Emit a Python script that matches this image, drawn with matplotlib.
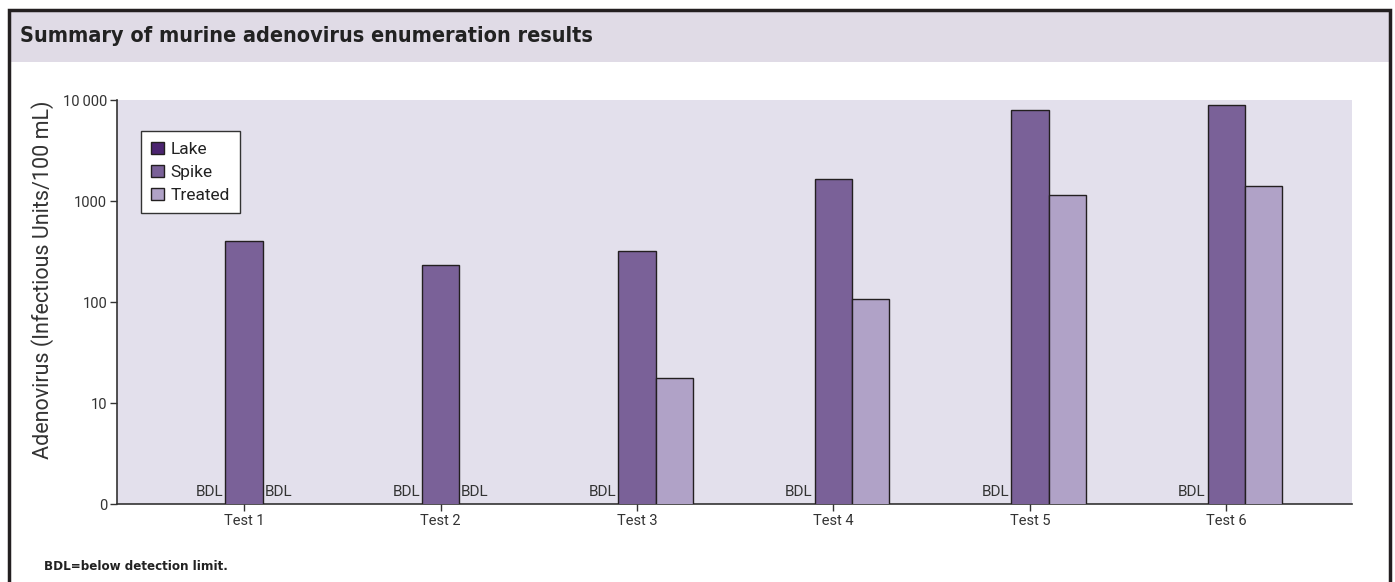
"""
Summary of murine adenovirus enumeration results (log-scale grouped bars).
"""

import numpy as np
import matplotlib.pyplot as plt
from matplotlib.patches import Patch, Rectangle
from matplotlib.ticker import FixedLocator, FixedFormatter, NullLocator

TESTS = ["Test 1", "Test 2", "Test 3", "Test 4", "Test 5", "Test 6"]
LAKE = [None, None, None, None, None, None]  # all below detection limit
SPIKE = [400, 236, 324, 1660, 8000, 8950]
TREATED = [None, None, 18, 107, 1150, 1410]

Y_TICKS = [1, 10, 100, 1000, 10000]
Y_LABELS = ["0", "10", "100", "1000", "10\u2009000"]

LAKE_COLOR = "#4b2470"
SPIKE_COLOR = "#7a6198"
TREATED_COLOR = "#b0a2c7"
PLOT_BG = "#e3e0ec"
BAND_BG = "#e0dbe6"
FRAME = "#231f20"
TEXT = "#333333"

LIGHT = ["Roboto", "DejaVu Sans"]

W, H = 1395, 582
BAR_W = 0.19


def main():
    fig = plt.figure(figsize=(W / 100, H / 100), dpi=100)
    fig.patch.set_facecolor("white")

    # title band and outer frame
    fig.patches.append(Rectangle((10 / W, 1 - 62 / H), 1380 / W, 52 / H,
                                 transform=fig.transFigure, facecolor=BAND_BG,
                                 edgecolor="none", zorder=0))
    fig.patches.append(Rectangle((9 / W, -0.05), 1381 / W, 1.05 - 10 / H,
                                 transform=fig.transFigure, facecolor="none",
                                 edgecolor=FRAME, lw=2.5, zorder=1))
    fig.text(20 / W, 1 - 36 / H, "Summary of murine adenovirus enumeration results",
             family="DejaVu Sans", fontstretch="condensed", fontweight="bold",
             fontsize=15.5, color="#222222", va="center", ha="left")
    fig.text(44 / W, 1 - 567 / H, "BDL=below detection limit.",
             family="DejaVu Sans", fontstretch="condensed", fontweight="bold",
             fontsize=9.5, color="#222222", va="center", ha="left")

    ax = fig.add_axes([117 / W, 1 - 504.3 / H, 1235 / W, 404 / H])
    ax.set_facecolor(PLOT_BG)
    ax.set_yscale("log")
    ax.set_ylim(1, 10000)
    ax.set_xlim(-0.647, 5.64)

    x = np.arange(len(TESTS))
    spike = np.array(SPIKE, dtype=float)
    ax.bar(x, spike, width=BAR_W, bottom=0, color=SPIKE_COLOR,
           edgecolor=FRAME, linewidth=1.0, zorder=3)

    for i, (lake, treated) in enumerate(zip(LAKE, TREATED)):
        if lake is None:
            ax.text(x[i] - BAR_W / 2 - 0.01, 1.12, "BDL", family=LIGHT,
                    fontsize=11, color=TEXT, ha="right", va="bottom")
        else:
            ax.bar(x[i] - BAR_W, lake, width=BAR_W, color=LAKE_COLOR,
                   edgecolor=FRAME, linewidth=1.0, zorder=3)
        if treated is None:
            ax.text(x[i] + BAR_W / 2 + 0.01, 1.12, "BDL", family=LIGHT,
                    fontsize=11, color=TEXT, ha="left", va="bottom")
        else:
            ax.bar(x[i] + BAR_W, treated, width=BAR_W, color=TREATED_COLOR,
                   edgecolor=FRAME, linewidth=1.0, zorder=3)

    ax.yaxis.set_major_locator(FixedLocator(Y_TICKS))
    ax.yaxis.set_major_formatter(FixedFormatter(Y_LABELS))
    ax.yaxis.set_minor_locator(NullLocator())
    ax.set_xticks(x)
    ax.set_xticklabels(TESTS)

    for side in ("top", "right"):
        ax.spines[side].set_visible(False)
    for side in ("left", "bottom"):
        ax.spines[side].set_color("#333333")
        ax.spines[side].set_linewidth(1.2)

    ax.tick_params(axis="both", direction="out", length=5, width=1,
                   color="#333333", labelcolor=TEXT, labelsize=10.5, pad=2)
    for lbl in ax.get_xticklabels() + ax.get_yticklabels():
        lbl.set_family(LIGHT)

    ax.set_ylabel("Adenovirus (Infectious Units/100 mL)", family=LIGHT,
                  fontsize=15.5, color=TEXT)
    ax.yaxis.set_label_coords(-0.051, 0.555)

    handles = [Patch(facecolor=LAKE_COLOR, edgecolor=FRAME, label="Lake"),
               Patch(facecolor=SPIKE_COLOR, edgecolor=FRAME, label="Spike"),
               Patch(facecolor=TREATED_COLOR, edgecolor=FRAME, label="Treated")]
    leg = ax.legend(handles=handles, loc="upper left",
                    bbox_to_anchor=(24 / 1235, 1 - 31 / 404), borderaxespad=0,
                    prop={"family": LIGHT, "size": 12.5},
                    handlelength=0.7, handleheight=0.7, handletextpad=0.4,
                    labelspacing=0.45, borderpad=0.6, fancybox=False,
                    framealpha=1, edgecolor="#333333")
    leg.get_frame().set_linewidth(1.0)
    for t in leg.get_texts():
        t.set_color("#222222")

    fig.savefig("out.png", dpi=100, facecolor=fig.get_facecolor())


if __name__ == "__main__":
    main()
